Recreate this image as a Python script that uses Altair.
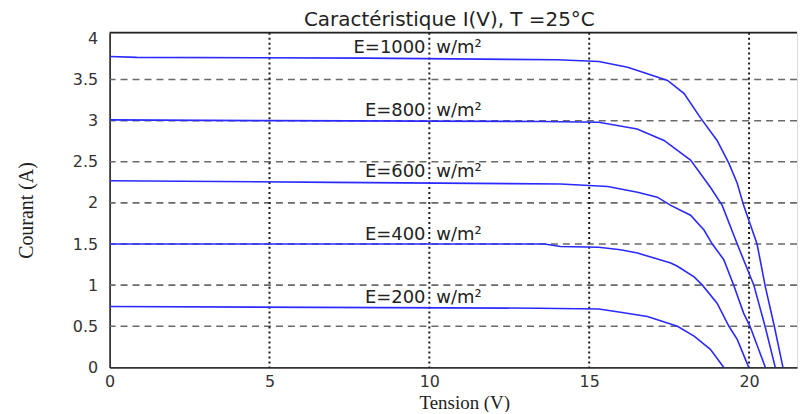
import altair as alt
import pandas as pd

# ---- data ----
v_1000 = [0, 0.85, 8.0, 14.0, 15.3, 16.2, 16.82, 17.45, 17.97, 18.47, 19.0, 19.37, 19.63, 19.83, 20.25, 20.51, 20.79, 21.06]
i_1000 = [3.78, 3.77, 3.76, 3.74, 3.72, 3.65, 3.57, 3.49, 3.33, 3.04, 2.76, 2.48, 2.24, 1.97, 1.50, 0.98, 0.50, 0.0]

v_800 = [0, 5.0, 13.5, 15.3, 16.5, 17.34, 18.17, 18.79, 19.16, 19.63, 20.15, 20.5, 20.82]
i_800 = [3.01, 3.0, 2.99, 2.98, 2.90, 2.76, 2.52, 2.19, 1.97, 1.50, 1.0, 0.5, 0.0]

v_600 = [0, 7.0, 14.1, 15.58, 16.51, 17.13, 17.55, 18.17, 18.59, 18.85, 19.21, 19.52, 19.83, 20.03, 20.51]
i_600 = [2.27, 2.25, 2.23, 2.20, 2.13, 2.07, 1.97, 1.85, 1.67, 1.50, 1.31, 1.0, 0.66, 0.50, 0.0]

v_400 = [0, 13.6, 14.1, 15.3, 15.98, 16.51, 17.03, 17.55, 17.76, 18.28, 18.54, 19.0, 19.37, 19.63, 19.99]
i_400 = [1.50, 1.50, 1.47, 1.46, 1.43, 1.39, 1.33, 1.27, 1.23, 1.10, 1.0, 0.78, 0.50, 0.34, 0.0]

v_200 = [0, 13.4, 15.3, 15.98, 16.82, 17.76, 18.28, 18.79, 19.21]
i_200 = [0.74, 0.72, 0.71, 0.67, 0.62, 0.50, 0.38, 0.22, 0.0]

labels_e = ["E=1000", "E=800", "E=600", "E=400", "E=200"]
label_unit = "w/m²"
title_text = ["Caractéristique I(V), T =25°C"]
x_ticks = [0, 5, 10, 15, 20]
y_ticks = [0, 0.5, 1, 1.5, 2, 2.5, 3, 3.5, 4]
grid_x = [5, 10, 15, 20]
grid_y = [0.5, 1, 1.5, 2, 2.5, 3, 3.5]

curves = [("1000", v_1000, i_1000), ("800", v_800, i_800), ("600", v_600, i_600),
          ("400", v_400, i_400), ("200", v_200, i_200)]

rows = []
for name, vs, iss in curves:
    for k, (v, i) in enumerate(zip(vs, iss)):
        rows.append({"E": name, "V": v, "I": i, "order": k})
df = pd.DataFrame(rows)

lab_rows = []
for lab, (name, vs, iss) in zip(labels_e, curves):
    lab_rows.append({"E": lab, "U": label_unit, "I": iss[0]})
df_lab = pd.DataFrame(lab_rows)
df_lab["Vl"] = 9.88
df_lab["Vr"] = 10.22

W, H = 690, 336
xscale = alt.Scale(domain=[0, 21.5], nice=False, zero=False)
yscale = alt.Scale(domain=[0, 4.07], nice=False, zero=False)

xaxis = alt.Axis(values=x_ticks, grid=False, ticks=False, domainColor="#333", domainWidth=1.6,
                 labelFont="DejaVu Sans", labelFontSize=16, labelColor="#333", labelPadding=6,
                 labelFlush=False, format="~g",
                 title="Tension (V)", titleFont="Liberation Serif", titleFontSize=19,
                 titleFontWeight="normal", titleColor="#222", titleX=356, titleY=35,
                 titleAlign="center", titleBaseline="middle")
yaxis = alt.Axis(values=y_ticks, grid=False, ticks=False, domainColor="#222", domainWidth=1.6,
                 labelFont="DejaVu Sans", labelFontSize=16, labelColor="#333", labelPadding=12,
                 labelFlush=False, format="~g", labelOverlap=False,
                 title="Courant (A)", titleFont="Liberation Serif", titleFontSize=20,
                 titleFontWeight="normal", titleColor="#222", titleX=-83, titleY=178,
                 titleAlign="center", titleBaseline="middle", titleAngle=270)

lines = alt.Chart(df).mark_line(color="#2a2aff", strokeWidth=1.6, clip=True).encode(
    x=alt.X("V:Q", scale=xscale, axis=xaxis),
    y=alt.Y("I:Q", scale=yscale, axis=yaxis),
    detail="E:N",
    order="order:Q",
)

hgrid = alt.Chart(pd.DataFrame({"g": grid_y})).mark_rule(
    color="#6a6a6a", strokeWidth=1.6, strokeDash=[7, 5]).encode(
    y=alt.Y("g:Q", scale=yscale, axis=yaxis))
vgrid = alt.Chart(pd.DataFrame({"g": grid_x})).mark_rule(
    color="#1a1a1a", strokeWidth=2, strokeDash=[2, 3]).encode(
    x=alt.X("g:Q", scale=xscale, axis=xaxis))

txt_l = alt.Chart(df_lab).mark_text(font="DejaVu Sans", fontSize=18, color="#222",
                                    align="right", baseline="alphabetic", dy=-4).encode(
    x=alt.X("Vl:Q", scale=xscale, axis=xaxis),
    y=alt.Y("I:Q", scale=yscale, axis=yaxis),
    text="E:N")
txt_r = alt.Chart(df_lab).mark_text(font="DejaVu Sans", fontSize=18, color="#222",
                                    align="left", baseline="alphabetic", dy=-4).encode(
    x=alt.X("Vr:Q", scale=xscale, axis=xaxis),
    y=alt.Y("I:Q", scale=yscale, axis=yaxis),
    text="U:N")

top = alt.Chart(pd.DataFrame({"a": [0]})).mark_rule(color="#222", strokeWidth=1.6).encode(
    x=alt.value(0), x2=alt.value(W), y=alt.value(0))

title = alt.Chart(pd.DataFrame({"t": title_text})).mark_text(
    font="DejaVu Sans", fontSize=20, color="#222", align="center", baseline="alphabetic").encode(
    x=alt.value(341), y=alt.value(-7), text="t:N")

chart = alt.layer(hgrid, vgrid, lines, txt_l, txt_r, top, title).properties(
    width=W, height=H,
    autosize=alt.AutoSizeParams(type="none"),
    padding={"left": 102, "top": 24, "right": 4, "bottom": 44},
).configure_view(stroke=None).configure(background="white")

chart.save("out.html", embed_options={"renderer": "svg", "actions": False})
